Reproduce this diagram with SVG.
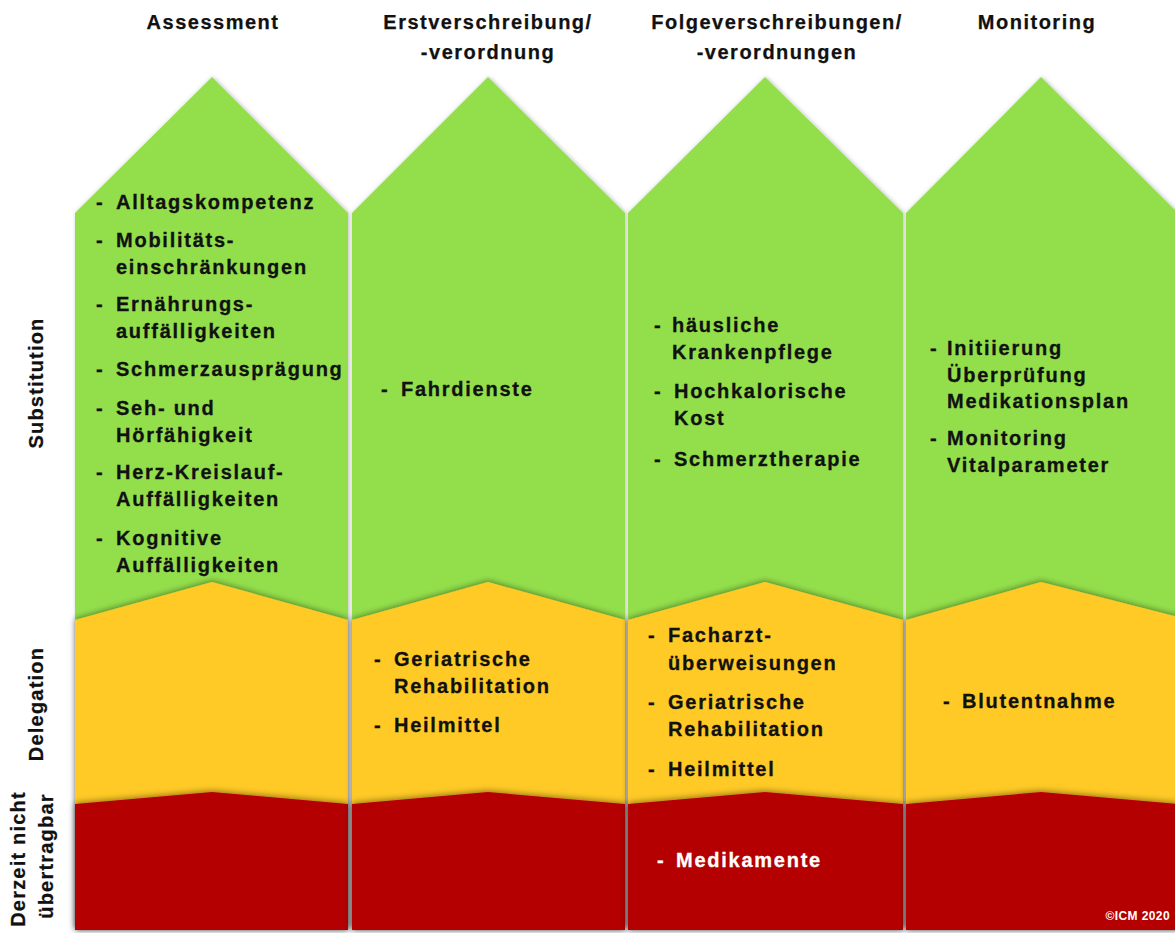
<svg xmlns="http://www.w3.org/2000/svg" width="1175" height="933" viewBox="0 0 1175 933">
<defs>
<filter id="sh" x="-10%" y="-10%" width="120%" height="120%">
<feDropShadow dx="1" dy="0" stdDeviation="2" flood-color="#000" flood-opacity="0.25"/>
</filter>
<filter id="shUp" x="-10%" y="-20%" width="120%" height="140%">
<feDropShadow dx="0" dy="-1" stdDeviation="3" flood-color="#000" flood-opacity="0.45"/>
</filter>
<style>
.g{fill:#93DF4B}
.y{fill:#FFCA27}
.r{fill:#B40000}
.h{font-family:"Liberation Sans",Arial,sans-serif;font-weight:bold;font-size:20px;letter-spacing:1.5px;fill:#111;text-anchor:middle;stroke:#111;stroke-width:0.25px}
.t{font-family:"Liberation Sans",Arial,sans-serif;font-weight:bold;font-size:20px;letter-spacing:1.75px;fill:#111;stroke:#111;stroke-width:0.3px}
.w{fill:#fff;stroke:#fff}
.l{font-family:"Liberation Sans",Arial,sans-serif;font-weight:bold;font-size:20px;letter-spacing:1.2px;fill:#111;text-anchor:middle;stroke:#111;stroke-width:0.25px}
.c{font-family:"Liberation Sans",Arial,sans-serif;font-weight:bold;font-size:12px;letter-spacing:0.4px;fill:#fff;text-anchor:end}
</style>
</defs>
<rect width="1175" height="933" fill="#fff"/>

<g id="headers">
<text class="h" x="213" y="29">Assessment</text>
<text class="h" x="488" y="29">Erstverschreibung/</text>
<text class="h" x="488" y="59">-verordnung</text>
<text class="h" x="777" y="29">Folgeverschreibungen/</text>
<text class="h" x="777" y="59">-verordnungen</text>
<text class="h" x="1037" y="29">Monitoring</text>
</g>

<g id="row-labels">
<text class="l" transform="translate(43,383) rotate(-90)">Substitution</text>
<text class="l" transform="translate(43,704) rotate(-90)">Delegation</text>
<text class="l" transform="translate(25,859) rotate(-90)">Derzeit nicht</text>
<text class="l" transform="translate(53,856) rotate(-90)">übertragbar</text>
</g>

<g id="col-assessment">
<path class="g" filter="url(#sh)" d="M75,213 L212,77 L348,213 L348,930 L75,930 Z"/>
<path class="y" filter="url(#shUp)" d="M75,620 L212,582 L348,620 L348,930 L75,930 Z"/>
<path class="r" filter="url(#shUp)" d="M75,804 L212,792 L348,804 L348,930 L75,930 Z"/>
<text class="t"><tspan x="96" y="209">-</tspan><tspan x="116" y="209">Alltagskompetenz</tspan></text>
<text class="t"><tspan x="96" y="247">-</tspan><tspan x="116" y="247">Mobilitäts-</tspan><tspan x="116" y="274">einschränkungen</tspan></text>
<text class="t"><tspan x="96" y="311">-</tspan><tspan x="116" y="311">Ernährungs-</tspan><tspan x="116" y="338">auffälligkeiten</tspan></text>
<text class="t"><tspan x="96" y="376">-</tspan><tspan x="116" y="376">Schmerzausprägung</tspan></text>
<text class="t"><tspan x="96" y="415">-</tspan><tspan x="116" y="415">Seh- und</tspan><tspan x="116" y="442">Hörfähigkeit</tspan></text>
<text class="t"><tspan x="96" y="479">-</tspan><tspan x="116" y="479">Herz-Kreislauf-</tspan><tspan x="116" y="506">Auffälligkeiten</tspan></text>
<text class="t"><tspan x="96" y="545">-</tspan><tspan x="116" y="545">Kognitive</tspan><tspan x="116" y="572">Auffälligkeiten</tspan></text>
</g>

<g id="col-erstverschreibung">
<path class="g" filter="url(#sh)" d="M352,213 L488,77 L625,213 L625,930 L352,930 Z"/>
<path class="y" filter="url(#shUp)" d="M352,620 L488,582 L625,620 L625,930 L352,930 Z"/>
<path class="r" filter="url(#shUp)" d="M352,804 L488,792 L625,804 L625,930 L352,930 Z"/>
<text class="t"><tspan x="381" y="396">-</tspan><tspan x="401" y="396">Fahrdienste</tspan></text>
<text class="t"><tspan x="374" y="666">-</tspan><tspan x="394" y="666">Geriatrische</tspan><tspan x="394" y="693">Rehabilitation</tspan></text>
<text class="t"><tspan x="374" y="732">-</tspan><tspan x="394" y="732">Heilmittel</tspan></text>
</g>

<g id="col-folgeverschreibungen">
<path class="g" filter="url(#sh)" d="M628,213 L765,77 L903,213 L903,930 L628,930 Z"/>
<path class="y" filter="url(#shUp)" d="M628,620 L765,582 L903,620 L903,930 L628,930 Z"/>
<path class="r" filter="url(#shUp)" d="M628,804 L765,792 L903,804 L903,930 L628,930 Z"/>
<text class="t"><tspan x="654" y="332">-</tspan><tspan x="672" y="332">häusliche</tspan><tspan x="672" y="359">Krankenpflege</tspan></text>
<text class="t"><tspan x="654" y="398">-</tspan><tspan x="674" y="398">Hochkalorische</tspan><tspan x="674" y="425">Kost</tspan></text>
<text class="t"><tspan x="654" y="466">-</tspan><tspan x="674" y="466">Schmerztherapie</tspan></text>
<text class="t"><tspan x="648" y="642">-</tspan><tspan x="668" y="642">Facharzt-</tspan><tspan x="668" y="670">überweisungen</tspan></text>
<text class="t"><tspan x="648" y="709">-</tspan><tspan x="668" y="709">Geriatrische</tspan><tspan x="668" y="736">Rehabilitation</tspan></text>
<text class="t"><tspan x="648" y="776">-</tspan><tspan x="668" y="776">Heilmittel</tspan></text>
<text class="t w"><tspan x="657" y="867">-</tspan><tspan x="676" y="867">Medikamente</tspan></text>
</g>

<g id="col-monitoring">
<path class="g" filter="url(#sh)" d="M906,213 L1041,77 L1178,213 L1178,930 L906,930 Z"/>
<path class="y" filter="url(#shUp)" d="M906,620 L1041,582 L1178,617 L1178,930 L906,930 Z"/>
<path class="r" filter="url(#shUp)" d="M906,804 L1041,792 L1178,804 L1178,930 L906,930 Z"/>
<text class="t"><tspan x="930" y="355">-</tspan><tspan x="947" y="355">Initiierung</tspan><tspan x="947" y="382">Überprüfung</tspan><tspan x="947" y="408">Medikationsplan</tspan></text>
<text class="t"><tspan x="930" y="445">-</tspan><tspan x="947" y="445">Monitoring</tspan><tspan x="947" y="472">Vitalparameter</tspan></text>
<text class="t"><tspan x="943" y="708">-</tspan><tspan x="962" y="708">Blutentnahme</tspan></text>
<text class="c" x="1170" y="920">©ICM 2020</text>
</g>

<g id="connectors"></g>
</svg>
